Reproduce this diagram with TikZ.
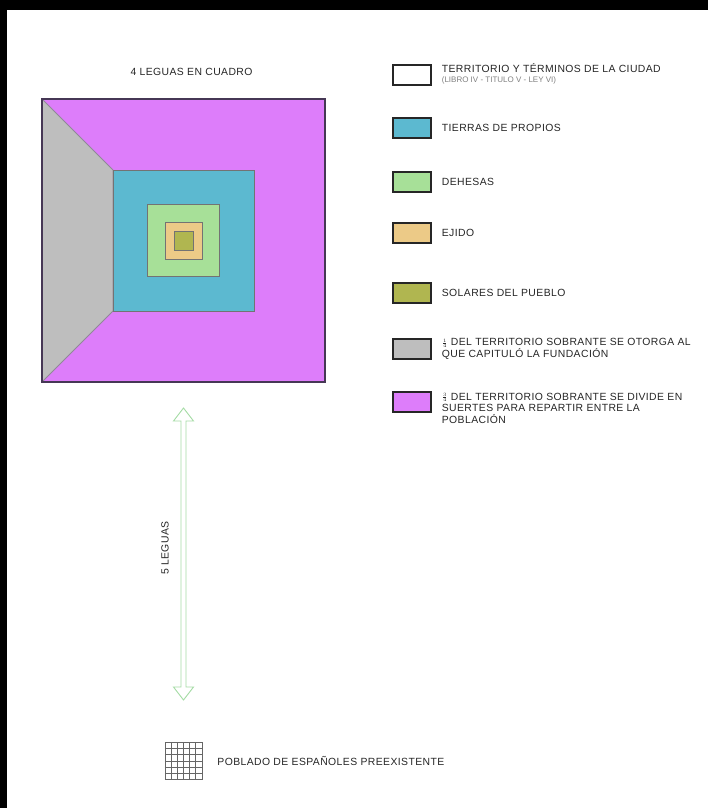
\documentclass[tikz,border=0pt]{standalone}
\usepackage{fontspec}
\setmainfont{Liberation Sans}
\usetikzlibrary{positioning,calc}
\definecolor{reparto}{RGB}{221,125,250}
\definecolor{fundador}{RGB}{190,190,190}
\definecolor{propios}{RGB}{92,185,208}
\definecolor{dehesa}{RGB}{167,224,152}
\definecolor{ejido}{RGB}{236,202,135}
\definecolor{solares}{RGB}{176,182,80}
\definecolor{frameline}{RGB}{70,55,85}
\definecolor{arrowgreen}{RGB}{165,220,165}

\newcommand{\partfrac}[2]{\raisebox{1pt}{$\scriptstyle\frac{#1}{#2}$}}

\tikzset{
  plot/.style={line width=0.8pt, draw=black!55},
  legbox/.style={draw=black!85, line width=1.3pt, minimum width=38pt, minimum height=20pt, inner sep=0pt},
  legtext/.style={font=\fontsize{10.4}{11.5}\selectfont\addfontfeature{LetterSpace=4},
    text=black!85, align=left, inner sep=0pt},
  gridline/.style={line width=0.6pt, draw=black!60}
}

\begin{document}
\begin{tikzpicture}[x=1pt, y=-1pt]
    % page with black frame at top and left
    \useasboundingbox (0,0) rectangle (708,808);
    \fill[black] (0,0) rectangle (708,808);
    \fill[white] (7,10) rectangle (708,808);

    % Title
    \node[legtext] (title) at (191.5,72) {4 LEGUAS EN CUADRO};

    % Plan of the town
    \coordinate (ctr) at (183.5,240.5);
    \fill[reparto] ($(ctr)+(-141.5,-141.5)$) rectangle ($(ctr)+(141.5,141.5)$);
    \filldraw[fundador, plot, draw=frameline!60] ($(ctr)+(-141.5,-141.5)$) -- ($(ctr)+(-70.5,-70.5)$)
        -- ($(ctr)+(-70.5,70.5)$) -- ($(ctr)+(-141.5,141.5)$) -- cycle;
    \filldraw[propios, plot] ($(ctr)+(-70.5,-70.5)$) rectangle ($(ctr)+(70.5,70.5)$);
    \filldraw[dehesa, plot] ($(ctr)+(-36,-36)$) rectangle ($(ctr)+(36,36)$);
    \filldraw[ejido, plot] ($(ctr)+(-18.5,-18.5)$) rectangle ($(ctr)+(18.5,18.5)$);
    \filldraw[solares, plot] ($(ctr)+(-9.5,-9.5)$) rectangle ($(ctr)+(9.5,9.5)$);
    \draw[line width=2pt, frameline] ($(ctr)+(-141.5,-141.5)$) rectangle ($(ctr)+(141.5,141.5)$);

    % Distance arrow
    \coordinate (arTop) at (183.5,408);
    \coordinate (arBot) at (183.5,700);
    \filldraw[fill=white, draw=arrowgreen, line width=0.9pt] (arTop) -- ++(10,13) -- ++(-7.5,0)
        -- ($(arBot)+(2.5,-13)$) -- ++(7.5,0) -- (arBot) -- ++(-10,-13) -- ++(7.5,0)
        -- ($(arTop)+(-2.5,13)$) -- ++(-7.5,0) -- cycle;
    \node[legtext, rotate=90] (dist) at (165,548) {5 LEGUAS};

    % Legend
    \node[legbox, fill=white] (bTerr) at (412,75) {};
    \node[legtext, right=10pt of bTerr, yshift=1pt] (tTerr) {TERRITORIO Y TÉRMINOS DE LA CIUDAD\\[-1.5pt]
        {\fontsize{8}{9}\selectfont\addfontfeature{LetterSpace=0}\color{black!50}(LIBRO IV - TITULO V - LEY VI)}};
    \node[legbox, fill=propios] (bProp) at (412,128) {};
    \node[legtext, right=10pt of bProp] (tProp) {TIERRAS DE PROPIOS};
    \node[legbox, fill=dehesa] (bDeh) at (412,182) {};
    \node[legtext, right=10pt of bDeh] (tDeh) {DEHESAS};
    \node[legbox, fill=ejido] (bEji) at (412,233) {};
    \node[legtext, right=10pt of bEji] (tEji) {EJIDO};
    \node[legbox, fill=solares] (bSol) at (412,293) {};
    \node[legtext, right=10pt of bSol] (tSol) {SOLARES DEL PUEBLO};
    \node[legbox, fill=fundador] (bFun) at (412,349) {};
    \node[legtext, right=10pt of bFun] (tFun) {\partfrac{1}{4} DEL TERRITORIO SOBRANTE SE OTORGA AL\\
        QUE CAPITULÓ LA FUNDACIÓN};
    \node[legbox, fill=reparto] (bRep) at (412,402) {};
    \node[legtext, right=10pt of bRep, yshift=-6pt] (tRep) {\partfrac{3}{4} DEL TERRITORIO SOBRANTE SE DIVIDE EN\\
        SUERTES PARA REPARTIR ENTRE LA\\ POBLACIÓN};

    % Existing settlement
    \node[minimum width=37pt, minimum height=37pt, inner sep=0pt] (bPob) at (183.5,761) {};
    \foreach \i in {0,...,6} {
        \draw[gridline] ($(bPob.north west)+(\i*37/6,0)$) -- ($(bPob.south west)+(\i*37/6,0)$);
        \draw[gridline] ($(bPob.north west)+(0,\i*37/6)$) -- ($(bPob.north east)+(0,\i*37/6)$);
    }
    \node[legtext, right=15pt of bPob] (tPob) {POBLADO DE ESPAÑOLES PREEXISTENTE};
\end{tikzpicture}
\end{document}
